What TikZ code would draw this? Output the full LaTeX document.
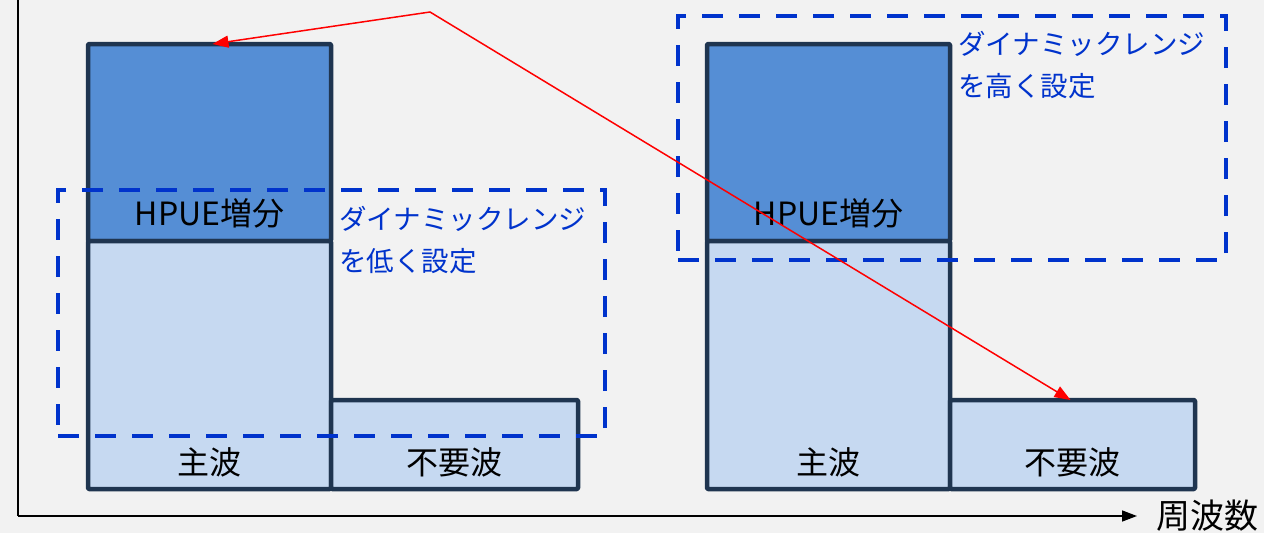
\documentclass[tikz,border=0pt]{standalone}
\usepackage{fontspec}
\setmainfont{Noto Sans CJK JP}
\usetikzlibrary{arrows.meta}
\definecolor{bgc}{HTML}{F2F2F2}
\definecolor{navy}{HTML}{1F3550}
\definecolor{darkfill}{HTML}{558ED5}
\definecolor{lightfill}{HTML}{C6D9F1}
\definecolor{dynblue}{HTML}{0033CC}
\tikzset{
  colbox/.style={draw=navy, line width=4.5pt, line join=round, rounded corners=1pt, inner sep=0pt, outer sep=0pt, anchor=north west},
  hpuebox/.style={colbox, fill=darkfill},
  mainbox/.style={colbox, fill=lightfill},
  dynbox/.style={draw=dynblue, line width=4.5pt, dash pattern=on 21pt off 16pt, inner sep=0pt, outer sep=0pt, anchor=north west},
  boxtext/.style={font=\fontsize{32}{36}\selectfont, text=black, inner sep=0pt},
  dyntext/.style={font=\fontsize{27.5}{42}\selectfont, text=dynblue, align=left, inner sep=0pt, anchor=north west},
  redarrow/.style={draw=red, line width=1.5pt, {Triangle[length=16pt,width=12pt]}-{Triangle[length=16pt,width=12pt]}},
  axis/.style={draw=black, line width=1.5pt}
}
\begin{document}
\begin{tikzpicture}[x=1pt,y=-1pt]
\fill[bgc] (0,0) rectangle (1264,533);
\useasboundingbox (0,0) rectangle (1264,533);
% axis
\coordinate (ytop) at (18,0);
\coordinate (orig) at (18,516);
\coordinate (xend) at (1137,516);
\draw[axis] (ytop) -- (orig);
\draw[axis, -{Triangle[length=15pt,width=11pt]}] (orig) -- (xend);
\node[font=\fontsize{34}{38}\selectfont, inner sep=0pt, anchor=west] (xlab) at (1156,516) {周波数};
% left columns
\node[hpuebox, minimum width=243pt, minimum height=197pt] (hpueL) at (88,44) {};
\node[mainbox, minimum width=243pt, minimum height=248pt] (mainL) at (88,241) {};
\node[mainbox, minimum width=247pt, minimum height=89pt] (spurL) at (331,400) {};
% right columns
\node[hpuebox, minimum width=243pt, minimum height=197pt] (hpueR) at (707,44) {};
\node[mainbox, minimum width=243pt, minimum height=248pt] (mainR) at (707,241) {};
\node[mainbox, minimum width=245pt, minimum height=89pt] (spurR) at (950,400) {};
% texts
\node[boxtext] (tHL) at ([yshift=28pt]hpueL.south) {HPUE増分};
\node[boxtext] (tML) at ([yshift=27pt]mainL.south) {主波};
\node[boxtext] (tSL) at ([yshift=27pt]spurL.south) {不要波};
\node[boxtext] (tHR) at ([yshift=28pt]hpueR.south) {HPUE増分};
\node[boxtext] (tMR) at ([yshift=27pt]mainR.south) {主波};
\node[boxtext] (tSR) at ([yshift=27pt]spurR.south) {不要波};
\node[dyntext] (dtL) at (339,206) {ダイナミックレンジ\\を低く設定};
\node[dyntext] (dtR) at (958,31) {ダイナミックレンジ\\を高く設定};
% dashed boxes
\node[dynbox, minimum width=547pt, minimum height=246pt] (dynL) at (58,190) {};
\node[dynbox, minimum width=548pt, minimum height=244pt] (dynR) at (678,16) {};
% red arrow
\coordinate (bend) at (430,12);
\draw[redarrow] ([xshift=3pt]hpueL.north) -- (bend) -- ([xshift=-2pt]spurR.north);
\end{tikzpicture}
\end{document}
